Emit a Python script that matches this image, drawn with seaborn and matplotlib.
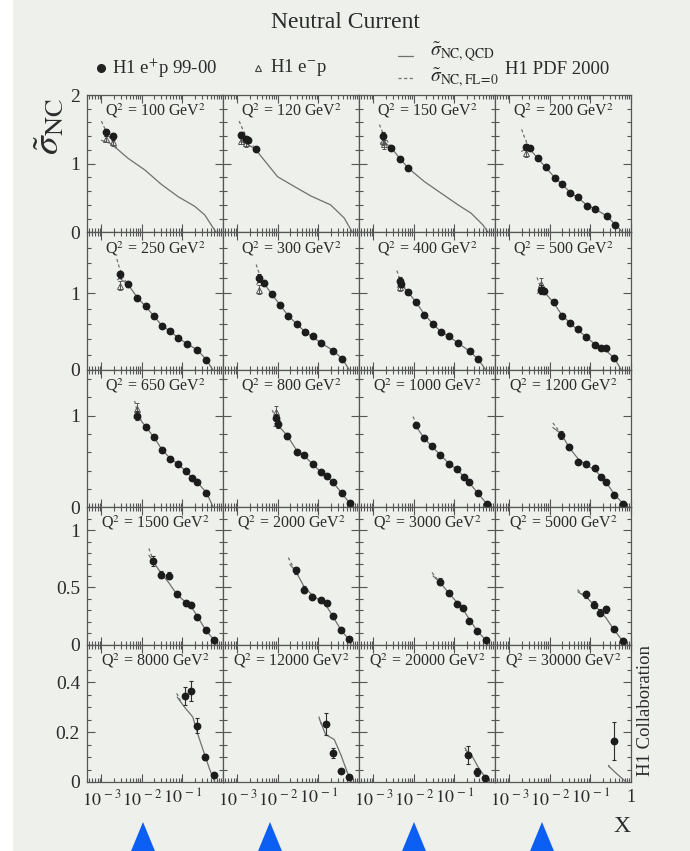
import numpy as np
import matplotlib
matplotlib.use("Agg")
import matplotlib.pyplot as plt
import seaborn as sns
from matplotlib.lines import Line2D
from matplotlib.patches import Polygon, Rectangle
from matplotlib.ticker import FixedLocator, MultipleLocator, LogLocator, NullFormatter

# ---------------------------------------------------------------- data
q2 = [100, 120, 150, 200, 250, 300, 400, 500, 650, 800,
      1000, 1200, 1500, 2000, 3000, 5000, 8000, 12000, 20000, 30000]

# H1 e+p 99-00 measurements
ep_x = [
    [0.0013, 0.0019],
    [0.0012, 0.0016, 0.0018, 0.0028],
    [0.0017, 0.00275, 0.0046, 0.0071],
    [0.0026, 0.0032, 0.005, 0.008, 0.013, 0.02, 0.032, 0.05, 0.08, 0.13, 0.25, 0.40],
    [0.0028, 0.0045, 0.0076, 0.0123, 0.02, 0.031, 0.048, 0.078, 0.13, 0.234, 0.39],
    [0.0035, 0.0044, 0.0071, 0.0112, 0.0178, 0.029, 0.046, 0.072, 0.117, 0.234, 0.39],
    [0.0045, 0.0049, 0.0071, 0.0115, 0.0178, 0.0295, 0.046, 0.072, 0.123, 0.24, 0.38],
    [0.006, 0.0065, 0.0072, 0.0123, 0.0195, 0.0316, 0.049, 0.078, 0.126, 0.178, 0.245, 0.39],
    [0.0076, 0.0123, 0.02, 0.031, 0.048, 0.078, 0.123, 0.174, 0.234, 0.39],
    [0.0089, 0.0098, 0.017, 0.029, 0.045, 0.072, 0.117, 0.162, 0.23, 0.38, 0.60],
    [0.011, 0.0174, 0.028, 0.045, 0.072, 0.117, 0.174, 0.23, 0.38, 0.62],
    [0.019, 0.030, 0.049, 0.078, 0.126, 0.178, 0.245, 0.39, 0.63],
    [0.0186, 0.030, 0.046, 0.072, 0.12, 0.166, 0.23, 0.37, 0.60],
    [0.0275, 0.045, 0.071, 0.115, 0.162, 0.224, 0.355, 0.575],
    [0.045, 0.072, 0.115, 0.162, 0.224, 0.363, 0.59],
    [0.076, 0.12, 0.174, 0.245, 0.38, 0.63],
    [0.117, 0.166, 0.23, 0.355, 0.59],
    [0.15, 0.224, 0.35, 0.575],
    [0.214, 0.35, 0.56],
    [0.37],
]
ep_y = [
    [1.46, 1.40],
    [1.42, 1.36, 1.34, 1.21],
    [1.41, 1.23, 1.07, 0.94],
    [1.25, 1.23, 1.08, 0.95, 0.79, 0.71, 0.57, 0.51, 0.39, 0.34, 0.245, 0.11],
    [1.25, 1.12, 0.94, 0.83, 0.71, 0.57, 0.51, 0.42, 0.34, 0.26, 0.13],
    [1.20, 1.14, 0.99, 0.85, 0.70, 0.60, 0.49, 0.44, 0.35, 0.25, 0.14],
    [1.16, 1.12, 1.02, 0.89, 0.72, 0.60, 0.50, 0.44, 0.35, 0.24, 0.14],
    [1.05, 1.04, 1.03, 0.89, 0.70, 0.61, 0.53, 0.43, 0.33, 0.29, 0.28, 0.15],
    [1.00, 0.88, 0.77, 0.62, 0.53, 0.475, 0.39, 0.32, 0.27, 0.16],
    [0.97, 0.91, 0.78, 0.60, 0.57, 0.47, 0.38, 0.34, 0.27, 0.15, 0.05],
    [0.90, 0.76, 0.67, 0.57, 0.47, 0.42, 0.33, 0.27, 0.15, 0.04],
    [0.79, 0.66, 0.49, 0.475, 0.43, 0.33, 0.27, 0.13, 0.04],
    [0.73, 0.61, 0.60, 0.44, 0.36, 0.35, 0.24, 0.13, 0.04],
    [0.65, 0.48, 0.42, 0.39, 0.36, 0.25, 0.13, 0.05],
    [0.55, 0.45, 0.355, 0.32, 0.21, 0.12, 0.04],
    [0.44, 0.35, 0.28, 0.31, 0.14, 0.03],
    [0.345, 0.363, 0.225, 0.10, 0.028],
    [0.233, 0.118, 0.044, 0.021],
    [0.108, 0.041, 0.017],
    [0.165],
]
ep_err = [
    [0.05, 0.05],
    [0.04, 0.04, 0.04, 0.03],
    [0.05, 0.03, 0.03, 0.03],
    [0.04, 0.03, 0.025, 0.02, 0.02, 0.02, 0.02, 0.02, 0.02, 0.02, 0.02, 0.015],
    [0.05, 0.03, 0.02, 0.02, 0.02, 0.02, 0.02, 0.02, 0.02, 0.02, 0.015],
    [0.05, 0.03, 0.02, 0.02, 0.02, 0.02, 0.02, 0.02, 0.02, 0.02, 0.015],
    [0.05, 0.04, 0.02, 0.02, 0.02, 0.02, 0.02, 0.02, 0.02, 0.02, 0.015],
    [0.06, 0.05, 0.04, 0.02, 0.02, 0.02, 0.02, 0.02, 0.02, 0.02, 0.02, 0.015],
    [0.05, 0.03, 0.02, 0.02, 0.02, 0.02, 0.02, 0.02, 0.02, 0.015],
    [0.05, 0.04, 0.03, 0.02, 0.02, 0.02, 0.02, 0.02, 0.02, 0.015, 0.01],
    [0.03, 0.03, 0.02, 0.02, 0.02, 0.02, 0.02, 0.02, 0.015, 0.01],
    [0.04, 0.03, 0.02, 0.02, 0.02, 0.02, 0.02, 0.015, 0.01],
    [0.04, 0.03, 0.03, 0.02, 0.02, 0.02, 0.015, 0.015, 0.01],
    [0.03, 0.03, 0.025, 0.02, 0.02, 0.02, 0.015, 0.01],
    [0.03, 0.02, 0.02, 0.02, 0.015, 0.01, 0.008],
    [0.03, 0.03, 0.03, 0.03, 0.015, 0.008],
    [0.037, 0.04, 0.03, 0.012, 0.006],
    [0.045, 0.02, 0.008, 0.005],
    [0.035, 0.015, 0.006],
    [0.075],
]

# H1 e-p measurements (low Q2 bins only)
em_x = [[0.0013, 0.0019], [0.0012, 0.0016], [0.0017, 0.0018], [0.0025], [0.0029],
        [0.0035], [0.0045], [0.006], [0.0076], [0.0089]] + [[]] * 10
em_y = [[1.36, 1.31], [1.33, 1.30], [1.33, 1.28], [1.16], [1.10],
        [1.05], [1.08], [1.13], [1.07], [1.04]] + [[]] * 10
em_err = [[0.05, 0.05], [0.05, 0.05], [0.06, 0.06], [0.06], [0.06],
          [0.06], [0.05], [0.07], [0.07], [0.06]] + [[]] * 10

# H1 PDF 2000 QCD fit
qcd_x = [
    [0.001, 0.0016, 0.0025, 0.0045, 0.0117, 0.030, 0.078, 0.20, 0.355, 0.51, 0.68],
    [0.00118, 0.0016, 0.0028, 0.0038, 0.0098, 0.025, 0.065, 0.20, 0.43, 0.69],
    [0.00148, 0.002, 0.00275, 0.0046, 0.0071, 0.018, 0.047, 0.123, 0.257, 0.50, 0.68],
    [0.002, 0.0026, 0.0032, 0.005, 0.008, 0.013, 0.02, 0.032, 0.05, 0.08, 0.13, 0.25, 0.40, 0.63],
    [0.0025, 0.0028, 0.0045, 0.0076, 0.0123, 0.02, 0.031, 0.048, 0.078, 0.13, 0.234, 0.39, 0.56],
    [0.003, 0.0035, 0.0044, 0.0071, 0.0112, 0.0178, 0.029, 0.046, 0.072, 0.117, 0.234, 0.39, 0.575],
    [0.0039, 0.0047, 0.0071, 0.0115, 0.0178, 0.0295, 0.046, 0.072, 0.123, 0.24, 0.38, 0.59],
    [0.0049, 0.006, 0.0072, 0.0123, 0.0195, 0.0316, 0.049, 0.078, 0.126, 0.178, 0.245, 0.39, 0.575],
    [0.0064, 0.0076, 0.0123, 0.02, 0.031, 0.048, 0.078, 0.123, 0.174, 0.234, 0.39, 0.575],
    [0.0079, 0.0098, 0.017, 0.029, 0.045, 0.072, 0.117, 0.162, 0.23, 0.38, 0.60, 0.66],
    [0.0098, 0.011, 0.0174, 0.028, 0.045, 0.072, 0.117, 0.174, 0.23, 0.38, 0.62, 0.66],
    [0.0118, 0.019, 0.030, 0.049, 0.078, 0.126, 0.178, 0.245, 0.39, 0.63, 0.68],
    [0.0148, 0.0186, 0.030, 0.046, 0.072, 0.12, 0.166, 0.23, 0.37, 0.60, 0.66],
    [0.0197, 0.0275, 0.045, 0.071, 0.115, 0.162, 0.224, 0.355, 0.575, 0.64],
    [0.0295, 0.045, 0.072, 0.115, 0.162, 0.224, 0.363, 0.59, 0.65],
    [0.049, 0.076, 0.12, 0.174, 0.245, 0.38, 0.63, 0.68],
    [0.074, 0.112, 0.18, 0.24, 0.32, 0.47, 0.63],
    [0.105, 0.15, 0.245, 0.355, 0.525, 0.65],
    [0.186, 0.263, 0.38, 0.56, 0.74],
    [0.28, 0.43, 0.76],
]
qcd_y = [
    [1.34, 1.30, 1.21, 1.08, 0.91, 0.70, 0.52, 0.38, 0.255, 0.11, 0.0],
    [1.32, 1.30, 1.21, 1.11, 0.81, 0.67, 0.53, 0.40, 0.21, 0.0],
    [1.30, 1.30, 1.23, 1.07, 0.94, 0.74, 0.57, 0.40, 0.28, 0.11, 0.0],
    [1.18, 1.22, 1.21, 1.08, 0.94, 0.80, 0.70, 0.58, 0.50, 0.40, 0.34, 0.24, 0.12, 0.0],
    [1.18, 1.20, 1.12, 0.95, 0.83, 0.70, 0.58, 0.51, 0.42, 0.34, 0.26, 0.13, 0.0],
    [1.12, 1.17, 1.14, 0.99, 0.85, 0.71, 0.60, 0.50, 0.43, 0.35, 0.25, 0.14, 0.0],
    [1.08, 1.12, 1.02, 0.88, 0.73, 0.60, 0.50, 0.44, 0.35, 0.24, 0.14, 0.0],
    [1.00, 1.04, 1.02, 0.88, 0.72, 0.61, 0.52, 0.43, 0.34, 0.29, 0.25, 0.15, 0.0],
    [0.97, 1.00, 0.88, 0.76, 0.63, 0.54, 0.47, 0.39, 0.32, 0.27, 0.16, 0.0],
    [0.88, 0.90, 0.78, 0.62, 0.56, 0.47, 0.38, 0.33, 0.27, 0.15, 0.04, 0.0],
    [0.88, 0.89, 0.76, 0.66, 0.57, 0.48, 0.41, 0.33, 0.27, 0.15, 0.04, 0.0],
    [0.87, 0.80, 0.65, 0.53, 0.46, 0.41, 0.34, 0.27, 0.14, 0.04, 0.0],
    [0.78, 0.73, 0.62, 0.54, 0.44, 0.37, 0.33, 0.25, 0.13, 0.04, 0.0],
    [0.70, 0.64, 0.50, 0.43, 0.38, 0.33, 0.25, 0.13, 0.04, 0.0],
    [0.60, 0.54, 0.45, 0.37, 0.31, 0.23, 0.12, 0.04, 0.0],
    [0.46, 0.42, 0.35, 0.29, 0.23, 0.13, 0.03, 0.0],
    [0.34, 0.30, 0.26, 0.19, 0.13, 0.05, 0.0],
    [0.253, 0.19, 0.17, 0.11, 0.035, 0.0],
    [0.128, 0.108, 0.061, 0.021, 0.0],
    [0.064, 0.035, 0.0],
]

# same fit with F_L = 0 (differs only at high y, i.e. lowest x)
fl0_x = [
    [0.001, 0.0013, 0.0017, 0.0025],
    [0.0011, 0.0014, 0.0018, 0.0025],
    [0.0014, 0.0017, 0.0021, 0.0028],
    [0.002, 0.0023, 0.0027, 0.0032],
    [0.0024, 0.0028, 0.0033, 0.004],
    [0.0029, 0.0033, 0.0038, 0.0046],
    [0.0038, 0.0043, 0.005, 0.006],
    [0.0048, 0.0054, 0.0062, 0.0072],
    [0.0066, 0.0074, 0.0085, 0.01],
    [0.0072, 0.0085, 0.0098, 0.012],
    [0.0095, 0.011, 0.013],
    [0.0118, 0.015, 0.019],
    [0.0148, 0.017, 0.02],
    [0.018, 0.022, 0.0275],
    [0.028, 0.034, 0.042],
    [0.048, 0.058, 0.07],
    [0.072, 0.08, 0.09],
    [0.102, 0.11, 0.12],
    [0.18, 0.2, 0.22],
    [0.275, 0.30],
]
fl0_y = [
    [1.62, 1.47, 1.36, 1.21],
    [1.62, 1.48, 1.36, 1.25],
    [1.57, 1.45, 1.35, 1.23],
    [1.50, 1.40, 1.30, 1.22],
    [1.45, 1.33, 1.24, 1.16],
    [1.38, 1.29, 1.21, 1.13],
    [1.30, 1.21, 1.14, 1.07],
    [1.21, 1.13, 1.07, 1.02],
    [1.16, 1.07, 1.00, 0.94],
    [1.06, 0.99, 0.93, 0.87],
    [0.99, 0.92, 0.86],
    [0.92, 0.86, 0.80],
    [0.84, 0.78, 0.72],
    [0.76, 0.70, 0.65],
    [0.63, 0.59, 0.55],
    [0.48, 0.45, 0.43],
    [0.355, 0.34, 0.325],
    [0.262, 0.245, 0.228],
    [0.138, 0.125, 0.118],
    [0.068, 0.058],
]

# per-row y axis setup
row_ymax = [2.0, 1.8, 1.5, 1.2, 0.55]
row_yticks = [[0, 1, 2], [0, 1], [0, 1], [0, 0.5, 1], [0, 0.2, 0.4]]
row_ylabels = [["0", "1", "2"], ["0", "1"], ["0", "1"], ["0", "0.5", "1"], ["0", "0.2", "0.4"]]
row_yminor = [0.2, 0.2, 0.2, 0.1, 0.05]

x_ticks = [1e-3, 1e-2, 1e-1, 1]
x_labels = [r"$10^{\,-3}$", r"$10^{\,-2}$", r"$10^{\,-1}$", "1"]

# ---------------------------------------------------------------- style
sns.set_theme(style="ticks")
plt.rcParams["font.family"] = ["Liberation Serif", "DejaVu Serif"]
plt.rcParams["mathtext.fontset"] = "stix"

BG = "#eef0eb"
INK = "#2b2b2b"
AX = "#555555"
FIT = "#707070"

W, H = 690, 851
fig = plt.figure(figsize=(W / 100, H / 100), dpi=100, facecolor=BG)


def fx(px):
    return px / W


def fy(py):
    return 1 - py / H


fig.add_artist(Rectangle((0, 0), fx(13), 1, transform=fig.transFigure,
                         facecolor="white", edgecolor="none", zorder=-5))

gs = fig.add_gridspec(5, 4, left=fx(87), right=fx(631), top=fy(95), bottom=fy(782),
                      wspace=0, hspace=0)

for i, q in enumerate(q2):
    r, c = divmod(i, 4)
    ax = fig.add_subplot(gs[r, c])
    ax.set_facecolor(BG)
    ax.set_xscale("log")

    sns.lineplot(x=qcd_x[i], y=qcd_y[i], ax=ax, color=FIT, linewidth=0.9,
                 estimator=None, sort=False, legend=False)
    sns.lineplot(x=fl0_x[i], y=fl0_y[i], ax=ax, color=FIT, linewidth=0.9,
                 linestyle=(0, (2.5, 2)), estimator=None, sort=False, legend=False)

    if em_x[i]:
        ax.errorbar(em_x[i], em_y[i], yerr=em_err[i], fmt="^", ms=4.2,
                    mfc="none", mec="#555", mew=0.7, ecolor="#555",
                    elinewidth=0.7, capsize=1.2, capthick=0.7, zorder=3)
    ax.errorbar(ep_x[i], ep_y[i], yerr=ep_err[i], fmt="o", ms=4.6,
                color="#1c1c1c", ecolor="#2e2e2e", elinewidth=0.8,
                capsize=1.5, capthick=0.8, zorder=4)

    ax.set_xlim(4.4e-4, 1)
    ax.set_ylim(0, row_ymax[r])
    ax.set_xlabel("")
    ax.set_ylabel("")

    ax.xaxis.set_major_locator(FixedLocator(x_ticks))
    ax.xaxis.set_minor_locator(LogLocator(base=10, subs=np.arange(2, 10), numticks=20))
    ax.xaxis.set_minor_formatter(NullFormatter())
    ax.yaxis.set_major_locator(FixedLocator(row_yticks[r]))
    ax.yaxis.set_minor_locator(MultipleLocator(row_yminor[r]))

    if r == 4:
        labs = list(x_labels)
        if c != 3:
            labs[-1] = ""
        ax.set_xticklabels(labs)
    else:
        ax.set_xticklabels([])
    if c == 0:
        ax.set_yticklabels(row_ylabels[r])
    else:
        ax.set_yticklabels([])

    ax.tick_params(which="both", direction="in", top=True, right=True,
                   color=AX, width=0.8, labelcolor=INK)
    ax.tick_params(axis="x", labelsize=13)
    ax.tick_params(axis="y", labelsize=14)
    ax.tick_params(which="major", length=6, pad=5)
    ax.tick_params(which="minor", length=3)
    for s in ax.spines.values():
        s.set_color(AX)
        s.set_linewidth(0.9)

    ax.text(0.5, 0.885, f"Q$^2$ = {q} GeV$^2$", transform=ax.transAxes,
            ha="center", va="center", fontsize=11.5, color=INK)

# ---------------------------------------------------------------- header
fig.text(0.5, fy(22), "Neutral Current", ha="center", va="center",
         fontsize=17, color=INK)

fig.add_artist(Line2D([fx(101)], [fy(68)], marker="o", ms=5.5, color="#222",
                      linestyle="none", transform=fig.transFigure))
fig.text(fx(112), fy(68), "H1 e$^{+}$p 99-00", va="center", fontsize=13.5, color=INK)
fig.add_artist(Line2D([fx(258)], [fy(68)], marker="^", ms=5, mfc="none",
                      mec="#444", mew=0.8, linestyle="none", transform=fig.transFigure))
fig.text(fx(270), fy(68), "H1 e$^{-}$p", va="center", fontsize=13.5, color=INK)

fig.add_artist(Line2D([fx(398), fx(413)], [fy(56), fy(56)], color=FIT, lw=0.9,
                      transform=fig.transFigure))
fig.text(fx(430), fy(52), r"$\tilde{\sigma}_{\mathrm{NC,QCD}}$", va="center",
         fontsize=14, color=INK)
fig.add_artist(Line2D([fx(398), fx(413)], [fy(78), fy(78)], color=FIT, lw=0.9,
                      linestyle=(0, (2.5, 2)), transform=fig.transFigure))
fig.text(fx(430), fy(78), r"$\tilde{\sigma}_{\mathrm{NC,FL\!=\!0}}$", va="center",
         fontsize=14, color=INK)
fig.text(fx(505), fy(70), "H1 PDF 2000", va="center", fontsize=13.5, color=INK)

# axis titles and side note
fig.text(fx(50), fy(127), r"$\tilde{\sigma}_{\mathrm{NC}}$", rotation=90,
         ha="center", va="center", fontsize=27, color=INK)
fig.text(fx(622), fy(827), "X", ha="center", va="center", fontsize=17, color=INK)
fig.text(fx(645), fy(711), "H1 Collaboration", rotation=90, ha="center",
         va="center", fontsize=13.5, color=INK)

# navigation arrows along the bottom edge
for cx in [143, 270, 414, 542]:
    fig.add_artist(Polygon([[fx(cx - 14), fy(856)], [fx(cx + 14), fy(856)], [fx(cx), fy(822)]],
                           closed=True, transform=fig.transFigure,
                           facecolor="#0b5ff2", edgecolor="none"))

fig.savefig("out.png", dpi=100, facecolor=BG)
